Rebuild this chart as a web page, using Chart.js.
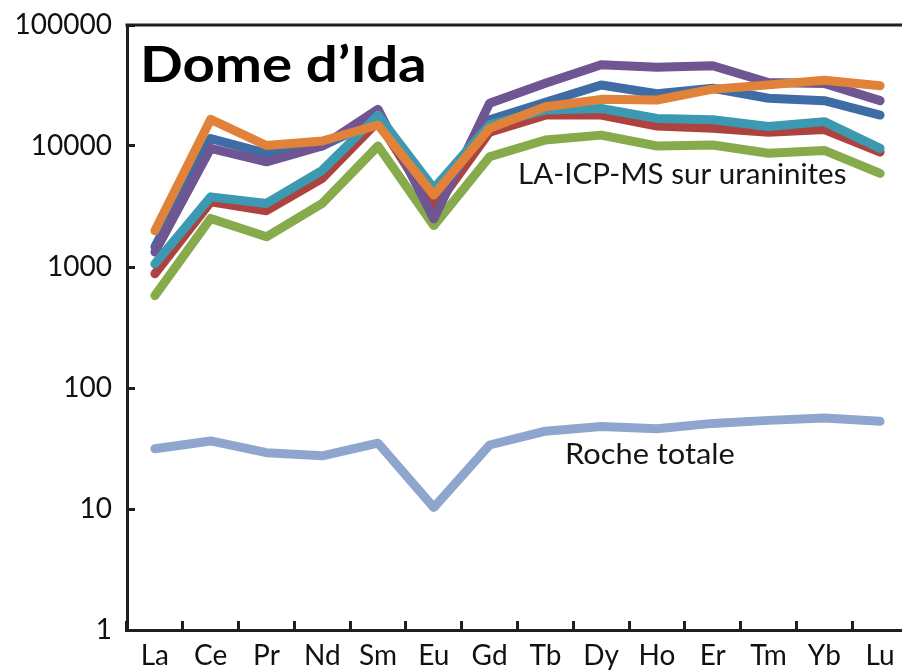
<!DOCTYPE html>
<html>
<head>
<meta charset="utf-8">
<script src="https://cdn.jsdelivr.net/npm/chart.js@4.4.1/dist/chart.umd.min.js"></script>
<style>
  html, body { margin: 0; padding: 0; background: #fff; overflow: hidden; }
  #wrap { position: relative; width: 912px; height: 671px; }
</style>
</head>
<body>
<div id="wrap"><canvas id="c" width="912" height="671"></canvas></div>
<script>
// Rare earth elements, chondrite-normalised concentrations
const elements = ['La', 'Ce', 'Pr', 'Nd', 'Sm', 'Eu', 'Gd', 'Tb', 'Dy', 'Ho', 'Er', 'Tm', 'Yb', 'Lu'];
const yTickValues = [1, 10, 100, 1000, 10000, 100000];

// LA-ICP-MS analyses of uraninite grains
const uraniniteBlue   = [1470, 11500, 8700, 10000, 16500, 3350, 16500, 23000, 31900, 27000, 30000, 24800, 23700, 18000];
const uraniniteRed    = [880, 3450, 2920, 5400, 16000, 3000, 13000, 18000, 18000, 14600, 14000, 13000, 13700, 8900];
const uraniniteGreen  = [580, 2520, 1775, 3350, 10000, 2200, 8150, 11200, 12300, 10000, 10200, 8700, 9200, 5930];
const uranitePurple   = [1330, 9550, 7400, 10000, 20100, 2500, 22600, 33000, 47000, 44700, 46000, 33500, 32900, 23700];
const uraniniteAqua   = [1060, 3800, 3350, 6300, 18000, 4460, 15000, 19800, 20400, 16900, 16500, 14500, 15900, 9550];
const uraniniteOrange = [1990, 16600, 10100, 11000, 14900, 3930, 14000, 21100, 24300, 24000, 29500, 32000, 35000, 31500];

// Whole-rock analysis
const rocheTotale = [31.5, 36.5, 29.2, 27.5, 35, 10.3, 33.8, 44, 48, 46, 51, 54, 56.5, 53];

const AXIS = '#1f1f1f';
const FONT = 'Lato';

function line(data, color, order) {
  return {
    data, borderColor: color, backgroundColor: color, borderWidth: 9,
    pointRadius: 0, tension: 0, fill: false, order,
    borderJoinStyle: 'round', borderCapStyle: 'round'
  };
}

// Draws text with a slight horizontal stretch
function wideText(ctx, text, x, y, sx) {
  ctx.save();
  ctx.translate(x, y);
  ctx.scale(sx, 1);
  ctx.fillText(text, 0, 0);
  ctx.restore();
}

// Frame (top/right edge) and in-plot text
const decorPlugin = {
  id: 'decor',
  afterDraw(chart) {
    const { ctx, chartArea: a } = chart;
    ctx.save();
    ctx.strokeStyle = AXIS;
    ctx.lineWidth = 3;
    ctx.beginPath();
    ctx.moveTo(a.left - 1.5, a.top);
    ctx.lineTo(a.right, a.top);
    ctx.lineTo(a.right, a.bottom);
    ctx.stroke();

    ctx.textBaseline = 'alphabetic';
    ctx.textAlign = 'left';
    ctx.fillStyle = '#000';
    ctx.font = `bold 49px ${FONT}`;
    wideText(ctx, 'Dome d\u2019Ida', a.left + 13, a.top + 57, 1.15);

    ctx.fillStyle = '#151515';
    ctx.font = `28px ${FONT}`;
    wideText(ctx, 'LA-ICP-MS sur uraninites', a.left + 391, a.top + 159, 1.055);
    wideText(ctx, 'Roche totale', a.left + 438, a.top + 439, 1.1);
    ctx.restore();
  }
};

function draw() {
  new Chart(document.getElementById('c'), {
    type: 'line',
    data: {
      labels: elements,
      datasets: [
        line(uraniniteBlue,   '#3e6ca5', 6),
        line(uraniniteRed,    '#ad423f', 5),
        line(uraniniteGreen,  '#87ab4a', 4),
        line(uranitePurple,   '#6f5592', 3),
        line(uraniniteAqua,   '#3b9ab2', 2),
        line(uraniniteOrange, '#e0823a', 1),
        line(rocheTotale,     '#8ea6cd', 7)
      ]
    },
    options: {
      responsive: false,
      animation: false,
      devicePixelRatio: 1,
      layout: { padding: { left: 0, right: 4, top: 25, bottom: 0 } },
      plugins: { legend: { display: false }, tooltip: { enabled: false }, title: { display: false } },
      scales: {
        x: {
          type: 'category',
          offset: true,
          grid: { offset: true, drawOnChartArea: false, tickLength: -9, lineWidth: 3, color: AXIS },
          border: { color: AXIS, width: 3 },
          ticks: { font: { family: FONT, size: 28 }, color: '#111', padding: 18, autoSkip: false, maxRotation: 0 },
          afterFit: s => { s.height = 41; s.paddingLeft = 0; s.paddingRight = 0; }
        },
        y: {
          type: 'logarithmic',
          min: 1,
          max: 100000,
          afterBuildTicks: s => { s.ticks = yTickValues.map(v => ({ value: v })); },
          afterFit: s => { s.width = 127; s.paddingTop = 0; s.paddingBottom = 0; },
          grid: { drawOnChartArea: false, tickLength: -8, lineWidth: 3, color: AXIS },
          border: { color: AXIS, width: 3 },
          ticks: { callback: v => String(v), font: { family: FONT, size: 28 }, color: '#111', padding: 23, autoSkip: false }
        }
      }
    },
    plugins: [decorPlugin]
  });
}

Promise.all([
  document.fonts.load(`28px ${FONT}`),
  document.fonts.load(`bold 49px ${FONT}`)
]).then(draw, draw);
</script>
</body>
</html>
